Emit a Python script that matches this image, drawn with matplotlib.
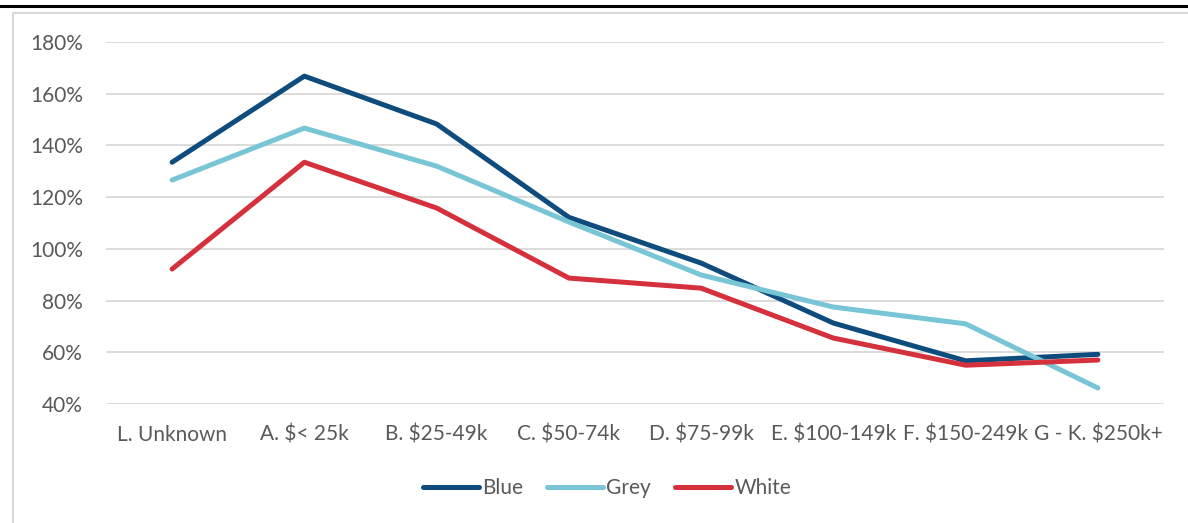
import matplotlib
matplotlib.use("Agg")
import matplotlib.pyplot as plt
from matplotlib.lines import Line2D
from matplotlib.ticker import FuncFormatter

plt.rcParams['font.family'] = ['Lato', 'DejaVu Sans']

categories = ["L. Unknown", "A. $< 25k", "B. $25-49k", "C. $50-74k",
              "D. $75-99k", "E. $100-149k", "F. $150-249k", "G - K. $250k+"]
blue = [133.5, 166.8, 148.3, 112.2, 94.5, 71.3, 56.7, 59.2]
grey = [126.6, 146.7, 132.0, 110.4, 89.9, 77.5, 71.0, 46.2]
white = [92.2, 133.5, 115.8, 88.7, 84.8, 65.5, 55.0, 57.0]
yticks = [40, 60, 80, 100, 120, 140, 160, 180]

series = [("Blue", blue, "#0E4C7D"), ("Grey", grey, "#78C5D5"), ("White", white, "#D4313C")]

fig = plt.figure(figsize=(11.88, 5.23), dpi=100)
ax = fig.add_axes([106/1188, 1 - 404/523, (1164 - 106)/1188, (404 - 42)/523])

x = range(len(categories))
for name, vals, col in series:
    ax.plot(x, vals, color=col, lw=3.6, solid_capstyle='round', solid_joinstyle='round', label=name)

ax.set_xlim(-0.5, len(categories) - 0.5)
ax.set_ylim(40, 180)
ax.set_yticks(yticks)
ax.yaxis.set_major_formatter(FuncFormatter(lambda v, p: f"{int(v)}%"))
ax.set_xticks(list(x))
ax.set_xticklabels(categories)
ax.grid(axis='y', color='#D9D9D9', lw=1.3)
ax.set_axisbelow(True)
for s in ax.spines.values():
    s.set_visible(False)
ax.tick_params(length=0, labelsize=15, labelcolor='#595959')
ax.tick_params(axis='y', pad=16.5)
ax.tick_params(axis='x', pad=15)

handles = [Line2D([0], [0], color=c, lw=3.6, solid_capstyle='round') for _, _, c in series]
fig.legend(handles, [n for n, _, _ in series], loc='center', bbox_to_anchor=(607/1188, 1 - 488/523),
           ncol=3, frameon=False, fontsize=15, labelcolor='#595959', handlelength=2.7,
           handletextpad=0.15, columnspacing=1.15)

# outer frame: black rule on top, light grey box edge
fig.add_artist(Line2D([0, 1], [1 - 6/523, 1 - 6/523], color='black', lw=2.2, transform=fig.transFigure))
fig.add_artist(Line2D([13/1188, 13/1188, 1], [0, 1 - 13/523, 1 - 13/523], color='#D9D9D9', lw=1.5,
                      transform=fig.transFigure))

fig.savefig("out.png", dpi=100)
